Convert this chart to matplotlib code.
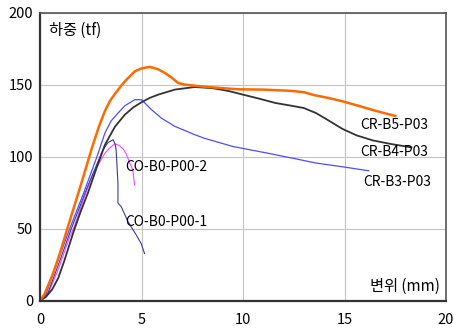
import matplotlib.pyplot as plt

plt.rcParams['font.family'] = ['Noto Sans CJK KR', 'DejaVu Sans']

# CR-B5-P03 (orange)
b5_x = [0, 0.23, 0.64, 1.0, 1.34, 2.0, 2.55, 2.9, 3.2, 3.45, 3.7, 4.0, 4.26, 4.67,
        5.0, 5.41, 5.8, 6.15, 6.5, 6.8, 7.13, 7.95, 9.0, 9.8, 11.0, 12.3, 13.0,
        13.5, 14.2, 14.9, 15.7, 16.5, 17.5]
b5_y = [0, 5, 19, 34, 50, 80, 106, 121, 132, 139, 144, 149.5, 153.7, 159.5,
        161.5, 162.6, 161, 158.4, 155, 151.4, 150.3, 149, 147.8, 147, 146.8, 146,
        145, 143, 141, 138.7, 135.5, 132.2, 128.5]

# CR-B4-P03 (black)
b4_x = [0, 0.3, 0.6, 0.9, 1.2, 1.65, 2.0, 2.36, 2.8, 3.2, 3.69, 4.18, 4.6, 5.0, 5.4,
        5.82, 6.64, 7.62, 8.5, 9.3, 10.0, 10.8, 11.6, 12.3, 13.0, 13.6, 14.2, 14.9,
        15.6, 16.4, 17.3, 18.3]
b4_y = [0, 3, 8, 16, 28, 48, 62, 75, 93, 108.5, 121, 129.4, 134.5, 138, 141,
        143.3, 146.8, 148.6, 147.8, 145.8, 143.3, 140.5, 137.5, 135.8, 134, 130.5,
        125.5, 119.5, 115, 111.5, 109, 106.7]

# CR-B3-P03 (blue)
b3_x = [0, 0.3, 0.8, 1.46, 2.15, 2.8, 3.2, 3.5, 3.85, 4.18, 4.67, 5.0, 5.2, 5.49,
        5.98, 6.64, 7.62, 8.1, 9.5, 11.2, 12.5, 13.6, 15.0, 16.2]
b3_y = [0, 5, 25, 50, 75, 100, 116.7, 125, 130.6, 135.6, 139.8, 139.8, 137,
        132.9, 127, 121.3, 115.5, 113, 107.3, 102.7, 99, 95.8, 93, 90.4]

# CO-B0-P00-1 (navy)
c1_x = [0, 0.4, 0.9, 1.54, 2.3, 3.1, 3.35, 3.6, 3.7, 3.75, 3.8, 3.84, 3.84, 4.0,
        4.33, 4.74, 4.98, 5.15]
c1_y = [0, 6, 25, 50, 78, 105, 110, 112, 109, 105, 92, 81.9, 68, 65.6, 55.2,
        45.9, 40, 33]

# CO-B0-P00-2 (magenta)
c2_x = [0, 0.4, 0.9, 1.35, 1.45, 1.7, 2.03, 2.6, 3.2, 3.45, 3.69, 3.9, 4.1, 4.25,
        4.42, 4.57, 4.66]
c2_y = [0, 5, 22, 40, 44, 52, 66, 88, 102.7, 106.5, 109.2, 108, 105.5, 102,
        96, 91, 80.7]

x_ticks = [0, 5, 10, 15, 20]
y_ticks = [0, 50, 100, 150, 200]

fig = plt.figure(figsize=(4.54, 3.31), dpi=100)
ax = fig.add_axes([40 / 454, 30 / 331, 406 / 454, 288 / 331])

ax.plot(c2_x, c2_y, color='#ff44ff', lw=0.8)
ax.plot(c1_x, c1_y, color='#3c3c9c', lw=0.8)
ax.plot(b3_x, b3_y, color='#4d4dff', lw=0.9)
ax.plot(b4_x, b4_y, color='#333333', lw=1.3)
ax.plot(b5_x, b5_y, color='#ff6a00', lw=1.8)

ax.set_xlim(0, 20)
ax.set_ylim(0, 200)
ax.set_xticks(x_ticks)
ax.set_yticks(y_ticks)
ax.tick_params(length=0, labelsize=10.5)
ax.tick_params(axis='x', pad=9)
ax.tick_params(axis='y', pad=5)
ax.grid(color='#c4c4c4', lw=0.8)
ax.set_axisbelow(True)

for s in ['left', 'bottom']:
    ax.spines[s].set_color('#333333')
    ax.spines[s].set_linewidth(1.6)
for s in ['top', 'right']:
    ax.spines[s].set_color('#555555')
    ax.spines[s].set_linewidth(1.2)

ax.text(0.44, 188, '하중 (tf)', fontsize=11, va='center', ha='left')
ax.text(19.7, 10, '변위 (mm)', fontsize=11, va='center', ha='right')

ax.text(15.8, 122.4, 'CR-B5-P03', fontsize=10, va='center')
ax.text(15.8, 103.3, 'CR-B4-P03', fontsize=10, va='center')
ax.text(15.9, 82.4, 'CR-B3-P03', fontsize=10, va='center')
ax.text(4.2, 92.9, 'CO-B0-P00-2', fontsize=10, va='center')
ax.text(4.2, 55, 'CO-B0-P00-1', fontsize=10, va='center')

fig.savefig('out.png', dpi=100)
